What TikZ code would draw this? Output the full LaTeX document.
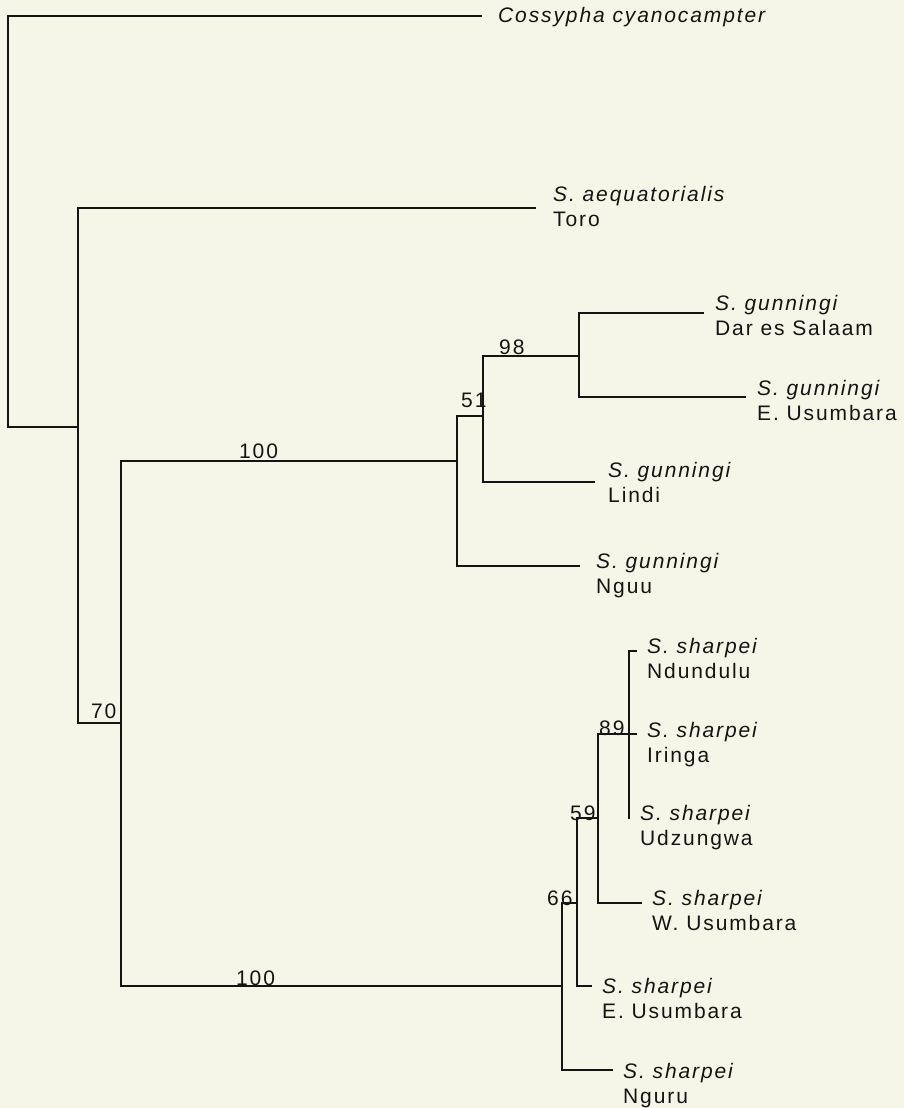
\documentclass[tikz,border=0pt]{standalone}
\usepackage{fontspec}
\setmainfont{Liberation Sans}[LetterSpace=9]
\definecolor{bgcol}{RGB}{246,246,232}
\definecolor{inkcol}{RGB}{20,20,20}
\begin{document}
\begin{tikzpicture}[x=1pt,y=-1pt,
  branch/.style={draw=inkcol, line width=1.2pt, line cap=rect},
  leaflbl/.style={anchor=base west, inner sep=0pt, text=inkcol, font=\fontsize{21}{25}\selectfont},
  suplbl/.style={anchor=base west, inner sep=0pt, text=inkcol, font=\fontsize{21}{25}\selectfont}]
\path[use as bounding box, fill=bgcol] (0,0) rectangle (904,1108);
% internal nodes
\coordinate (R) at (8,427);
\coordinate (A) at (78,427);
\coordinate (B) at (121,723);
\coordinate (C) at (457,461);
\coordinate (D) at (483,416);
\coordinate (E) at (579,356);
\coordinate (F) at (562,986);
\coordinate (G) at (577,903);
\coordinate (H) at (598,818);
\coordinate (I) at (629,734);
% tips
\coordinate (tCoss) at (481,16);
\coordinate (tAeq) at (535,208);
\coordinate (tDar) at (703,313);
\coordinate (tEusG) at (745,397);
\coordinate (tLindi) at (594,482);
\coordinate (tNguu) at (579,566);
\coordinate (tNdu) at (636,651);
\coordinate (tIri) at (636,734);
\coordinate (tUdz) at (629,818);
\coordinate (tWus) at (641,903);
\coordinate (tEusS) at (591,986);
\coordinate (tNguru) at (612,1070);
% branches
\draw[branch] (R) |- (tCoss);
\draw[branch] (R) -- (A);
\draw[branch] (A) |- (tAeq);
\draw[branch] (A) |- (B);
\draw[branch] (B) |- (C);
\draw[branch] (B) |- (F);
\draw[branch] (C) |- (D);
\draw[branch] (C) |- (tNguu);
\draw[branch] (D) |- (E);
\draw[branch] (D) |- (tLindi);
\draw[branch] (E) |- (tDar);
\draw[branch] (E) |- (tEusG);
\draw[branch] (F) |- (G);
\draw[branch] (F) |- (tNguru);
\draw[branch] (G) |- (H);
\draw[branch] (G) |- (tEusS);
\draw[branch] (H) |- (I);
\draw[branch] (H) |- (tWus);
\draw[branch] (I) |- (tNdu);
\draw[branch] (I) -- (tIri);
\draw[branch] (I) -- (tUdz);
% leaf labels
\node[leaflbl] (lCoss) at (498,23) {\itshape Cossypha cyanocampter};
\node[leaflbl] (lAeq) at (553,201) {\vtop{\hbox{\itshape S. aequatorialis}\hbox{Toro}}};
\node[leaflbl] (lDar) at (715,310) {\vtop{\hbox{\itshape S. gunningi}\hbox{Dar es Salaam}}};
\node[leaflbl] (lEusG) at (757,395) {\vtop{\hbox{\itshape S. gunningi}\hbox{E. Usumbara}}};
\node[leaflbl] (lLindi) at (608,477) {\vtop{\hbox{\itshape S. gunningi}\hbox{Lindi}}};
\node[leaflbl] (lNguu) at (596,568) {\vtop{\hbox{\itshape S. gunningi}\hbox{Nguu}}};
\node[leaflbl] (lNdu) at (647,653) {\vtop{\hbox{\itshape S. sharpei}\hbox{Ndundulu}}};
\node[leaflbl] (lIri) at (647,737) {\vtop{\hbox{\itshape S. sharpei}\hbox{Iringa}}};
\node[leaflbl] (lUdz) at (640,820) {\vtop{\hbox{\itshape S. sharpei}\hbox{Udzungwa}}};
\node[leaflbl] (lWus) at (652,905) {\vtop{\hbox{\itshape S. sharpei}\hbox{W. Usumbara}}};
\node[leaflbl] (lEusS) at (602,993) {\vtop{\hbox{\itshape S. sharpei}\hbox{E. Usumbara}}};
\node[leaflbl] (lNguru) at (623,1078) {\vtop{\hbox{\itshape S. sharpei}\hbox{Nguru}}};
% support values
\node[suplbl] (s70) at (91,718) {70};
\node[suplbl] (s100a) at (239,458) {100};
\node[suplbl] (s51) at (461,407) {51};
\node[suplbl] (s98) at (499,354) {98};
\node[suplbl] (s89) at (599,735) {89};
\node[suplbl] (s59) at (570,820) {59};
\node[suplbl] (s66) at (547,905) {66};
\node[suplbl] (s100b) at (236,985) {100};
\end{tikzpicture}
\end{document}
